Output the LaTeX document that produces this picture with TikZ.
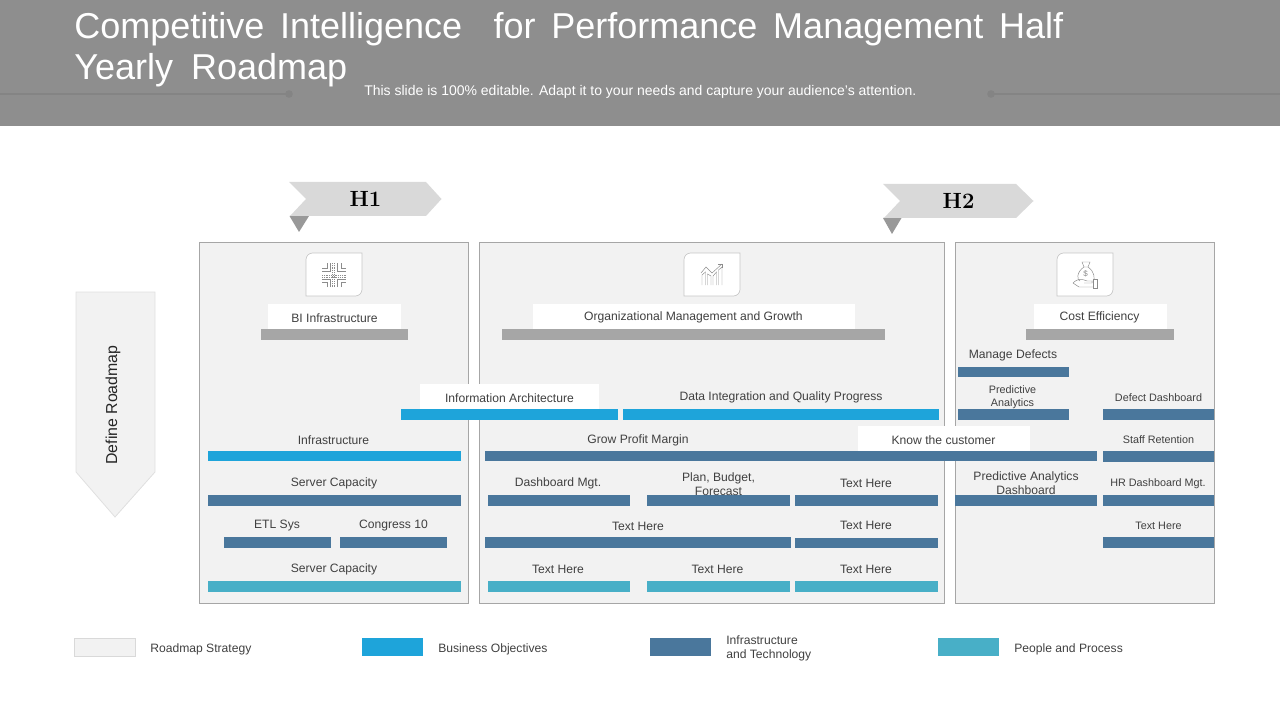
\documentclass[tikz,border=0pt]{standalone}
\usepackage{fontspec}
\setsansfont{Liberation Sans}
\definecolor{hdr}{HTML}{8E8E8E}
\definecolor{hdrline}{HTML}{848484}
\definecolor{panelfill}{HTML}{F2F2F2}
\definecolor{panelline}{HTML}{A6A6A6}
\definecolor{bannerc}{HTML}{D9D9D9}
\definecolor{foldc}{HTML}{999999}
\definecolor{topbar}{HTML}{A6A6A6}
\definecolor{blueb}{HTML}{1EA4DA}
\definecolor{steelb}{HTML}{4A779C}
\definecolor{tealb}{HTML}{48AFC7}
\definecolor{txt}{HTML}{404040}
\definecolor{iconc}{HTML}{8C8C8C}
\tikzset{
  lab/.style={inner sep=0pt,yshift=-1pt,text=txt,align=center,font=\sffamily\fontsize{9.1}{10.5}\selectfont},
  labsmall/.style={lab,font=\sffamily\fontsize{8.1}{9.9}\selectfont},
  leglab/.style={lab,anchor=west,align=left},
  panel/.style={fill=panelfill,draw=panelline,line width=0.7pt},
  whitebox/.style={fill=white},
  iconbox/.style={fill=white,draw=black!22,line width=0.5pt},
  iconline/.style={draw=iconc,line width=0.35pt},
  banner/.style={fill=bannerc},
  fold/.style={fill=foldc},
  hlabel/.style={inner sep=0pt,font=\rmfamily\bfseries\fontsize{16.5}{18}\selectfont,text=black}
}
\newcommand{\rbar}[5]{\fill[#5] (#1,#2) rectangle (#3,#4);}
\newcommand{\iconframe}[1]{\draw[iconbox,shift={(#1,253)}] (0,43) [rounded corners=5pt] -- (0,0) [sharp corners] -- (56,0) [rounded corners=5pt] -- (56,43) [sharp corners] -- cycle;}
\begin{document}
\begin{tikzpicture}[x=0.75pt,y=-0.75pt]
\useasboundingbox (0,0) rectangle (1280,720);
% header
\fill[hdr] (0,0) rectangle (1280,126);
\draw[hdrline,line width=0.9pt] (0,94) -- (289,94);
\fill[hdrline] (289,94) circle (3.8);
\draw[hdrline,line width=0.9pt] (991,94) -- (1280,94);
\fill[hdrline] (991,94) circle (3.8);
\node[anchor=north west,inner sep=0pt,text=white,align=left,font=\sffamily\fontsize{27}{30.75}\selectfont] (title) at (74,12.3)
 {\hbox to 741.75pt{Competitive\hfil Intelligence\hfil\hfil for\hfil Performance\hfil Management\hfil Half}\\
  \hbox to 204.75pt{Yearly\hfil Roadmap}};
\node[anchor=west,inner sep=0pt,text=white,font=\sffamily\fontsize{10.5}{12}\selectfont] (subtitle) at (364,91.5) {This slide is 100\% editable. Adapt it to your needs and capture your audience's attention.};
% banners
\fill[fold] (289.5,216) -- (309,216) -- (299,232) -- cycle;
\fill[banner] (289,182) -- (426,182) -- (441.5,199) -- (426,216) -- (290,216) -- (306,199) -- cycle;
\node[hlabel] (h1) at (365.5,199) {H1};
\fill[fold] (883,218) -- (901.5,218) -- (892,234) -- cycle;
\fill[banner] (883,184) -- (1016,184) -- (1033.5,201) -- (1016,218) -- (884,218) -- (900,201) -- cycle;
\node[hlabel] (h2) at (958.5,201) {H2};
% define roadmap
\fill[panelfill] (76,292) -- (155,292) -- (155,472) -- (115,517) -- (76,472) -- cycle;
\draw[black!12,line width=0.6pt] (76,292) -- (155,292) -- (155,472) -- (115,517) -- (76,472) -- cycle;
\node[inner sep=0pt,rotate=90,text=black!85,font=\sffamily\fontsize{11.9}{13}\selectfont] (define) at (113,405) {Define Roadmap};
% panels
\draw[panel] (199,242.5) rectangle (468,603.5);
\draw[panel] (479,242.5) rectangle (944,603.5);
\draw[panel] (955,242.5) rectangle (1214.7,603.5);
% icon frames
\iconframe{306}
\iconframe{684}
\iconframe{1057}
% icon 1: circuit cross
\begin{scope}[shift={(334,275)}]
 \foreach \sx/\sy in {1/1,1/-1,-1/1,-1/-1}{
  \draw[iconline] (\sx*3.5,\sy*12) -- (\sx*3.5,\sy*4) -- (\sx*12,\sy*4);
  \draw[iconline] (\sx*7,\sy*12) -- (\sx*7,\sy*7) -- (\sx*12,\sy*7);
 }
 \draw[iconline,densely dotted] (-12,0) -- (12,0);
 \draw[iconline,densely dotted] (0,-12) -- (0,12);
 \draw[iconline,densely dotted] (-12,2) -- (12,2);
 \draw[iconline,densely dotted] (-1.5,-12) -- (-1.5,12);
\end{scope}
% icon 2: growth chart
\draw[iconline] (702,285) -- (702,275) -- (705.5,272) -- (705.5,285);
\draw[iconline] (707.5,285) -- (707.5,274) -- (711,276) -- (711,285);
\draw[iconline] (713,285) -- (713,276) -- (716.5,272) -- (716.5,285);
\draw[iconline] (718.5,285) -- (718.5,270) -- (722,267) -- (722,285);
\draw[iconline] (701,273) -- (706,267) -- (712,273) -- (722,264);
\draw[iconline] (718,264) -- (722,264) -- (722,268);
% icon 3: money bag on hand
\draw[iconline] (1082,262) -- (1090,262) -- (1088,267) -- (1084,267) -- cycle;
\draw[iconline] (1084,267) .. controls (1076,272) and (1077,281) .. (1080,281);
\draw[iconline] (1088,267) .. controls (1095,272) and (1095,279) .. (1093,281);
\node[inner sep=0pt,text=iconc,font=\sffamily\fontsize{6}{6}\selectfont] (dollar) at (1085.5,274) {\$};
\draw[iconline] (1073,283) .. controls (1078,278) and (1082,279) .. (1087,281) -- (1092,281) -- (1092,283) -- (1084,283);
\draw[iconline] (1073,283) -- (1079,287) -- (1093,287);
\draw[iconline] (1093,279) rectangle (1097,288);
% white label boxes
\fill[whitebox] (268,304) rectangle (401,329);
\fill[whitebox] (533,304) rectangle (855,329);
\fill[whitebox] (1033.5,304) rectangle (1166.5,329);
\fill[whitebox] (420,384) rectangle (599,409);
\fill[whitebox] (858,426) rectangle (1030,451);
% heading bars
\rbar{261}{329}{408}{340}{topbar}
\rbar{502}{329}{885}{340}{topbar}
\rbar{1026}{329}{1174}{340}{topbar}
% blue bars
\rbar{401}{409}{618}{420}{blueb}
\rbar{623}{409}{939}{420}{blueb}
\rbar{208}{451}{461}{461}{blueb}
% steel bars
\rbar{208}{495}{461}{506}{steelb}
\rbar{224}{537}{331}{548}{steelb}
\rbar{340}{537}{447}{548}{steelb}
\rbar{485}{451}{1097}{461}{steelb}
\rbar{488}{495}{630}{506}{steelb}
\rbar{647}{495}{790}{506}{steelb}
\rbar{795}{495}{938}{506}{steelb}
\rbar{485}{537}{791}{548}{steelb}
\rbar{795}{538}{938}{548}{steelb}
\rbar{958}{367}{1069}{377}{steelb}
\rbar{958}{409}{1069}{420}{steelb}
\rbar{1103}{409}{1214}{420}{steelb}
\rbar{1103}{451}{1214}{462}{steelb}
\rbar{955}{495}{1097}{506}{steelb}
\rbar{1103}{495}{1214}{506}{steelb}
\rbar{1103}{537}{1214}{548}{steelb}
% teal bars
\rbar{208}{581}{461}{592}{tealb}
\rbar{488}{581}{630}{592}{tealb}
\rbar{647}{581}{790}{592}{tealb}
\rbar{795}{581}{938}{592}{tealb}
% labels
\node[lab] (bi) at (334.5,316.5) {BI Infrastructure};
\node[lab] (org) at (693.5,316.5) {Organizational Management and Growth};
\node[lab] (cost) at (1099.5,316.5) {Cost Efficiency};
\node[lab] (md) at (1013,354.5) {Manage Defects};
\node[lab] (info) at (509.5,396.5) {Information Architecture};
\node[lab] (data) at (781,396.5) {Data Integration and Quality Progress};
\node[labsmall] (pa) at (1012.5,395.5) {Predictive\\Analytics};
\node[labsmall] (dd) at (1158.5,396) {Defect Dashboard};
\node[lab] (infra) at (333.5,438.5) {Infrastructure};
\node[lab] (grow) at (638,439.5) {Grow Profit Margin};
\node[lab] (know) at (943.5,438.5) {Know the customer};
\node[labsmall] (staff) at (1158.5,438) {Staff Retention};
\node[lab] (sc1) at (334,482.5) {Server Capacity};
\node[lab] (dash) at (558,482.5) {Dashboard Mgt.};
\node[lab] (plan) at (718.5,482.5) {Plan, Budget,\\Forecast};
\node[lab] (th1) at (866,482.5) {Text Here};
\node[lab] (pad) at (1026,482) {Predictive Analytics\\Dashboard};
\node[labsmall] (hr) at (1158,482) {HR Dashboard Mgt.};
\node[lab] (etl) at (277,524.5) {ETL Sys};
\node[lab] (cong) at (393.5,524.5) {Congress 10};
\node[lab] (th2) at (638,525.5) {Text Here};
\node[lab] (th3) at (866,524.5) {Text Here};
\node[labsmall] (th4) at (1158.5,524) {Text Here};
\node[lab] (sc2) at (334,568.5) {Server Capacity};
\node[lab] (th5) at (558,568.5) {Text Here};
\node[lab] (th6) at (717.5,568.5) {Text Here};
\node[lab] (th7) at (866,568.5) {Text Here};
% legend
\fill[panelfill] (74,638.5) rectangle (135.5,656.5);
\draw[black!15,line width=0.6pt] (74,638.5) rectangle (135.5,656.5);
\rbar{362}{638}{423}{656}{blueb}
\rbar{650}{638}{711}{656}{steelb}
\rbar{938}{638}{999}{656}{tealb}
\node[leglab] (l1) at (150,648) {Roadmap Strategy};
\node[leglab] (l2) at (438,648) {Business Objectives};
\node[leglab] (l3) at (726,647) {Infrastructure\\and Technology};
\node[leglab] (l4) at (1014,648) {People and Process};
\end{tikzpicture}
\end{document}
